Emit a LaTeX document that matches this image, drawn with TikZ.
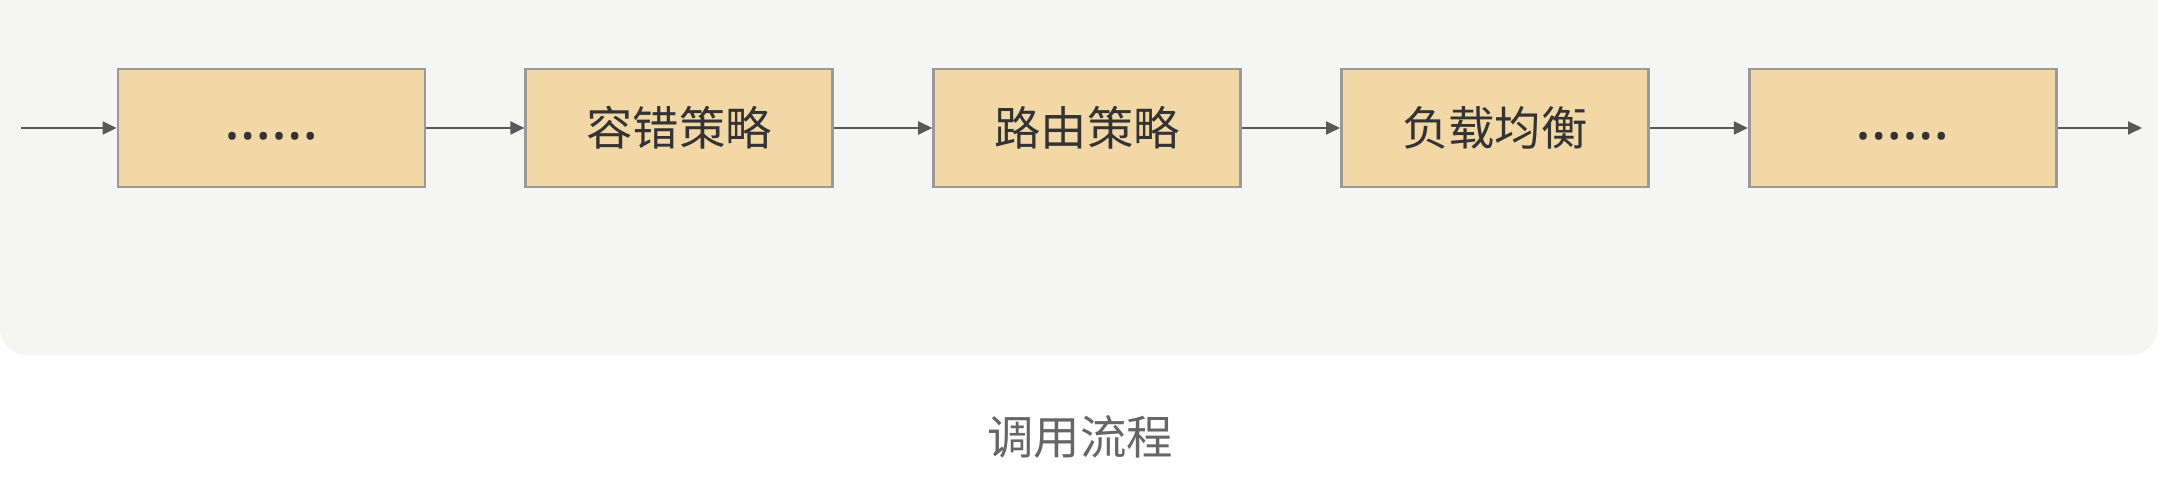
\documentclass[tikz,border=0pt]{standalone}
\usepackage{fontspec}
\setmainfont{Noto Sans CJK SC}
\newfontfamily\latinfont{Noto Sans}
\usepackage{tikz}
\usetikzlibrary{positioning,arrows.meta}
\definecolor{bgcol}{HTML}{F5F5F3}
\definecolor{boxfill}{HTML}{F3D8A7}
\definecolor{boxline}{HTML}{999999}
\definecolor{arrowcol}{HTML}{595959}
\definecolor{textcol}{HTML}{333333}
\definecolor{capcol}{HTML}{666666}
\tikzset{
  block/.style = {rectangle, minimum width=3.07cm, minimum height=1.18cm,
                  draw=boxline, line width=0.8pt, fill=boxfill, align=center,
                  text=textcol, font=\fontsize{13.2pt}{16pt}\selectfont},
  arrow/.style = {draw=arrowcol, line width=0.6pt,
                  -{Triangle[length=1.4mm,width=1.3mm]}}
}
\newcommand{\moredots}{{\latinfont\fontsize{17pt}{16pt}\selectfont\strut ……}}

\begin{document}
\begin{tikzpicture}[node distance=0.98cm]

\useasboundingbox (0,0) rectangle (21.58,4.77);
% background panel
\fill[bgcol] (0,4.77) [rounded corners=0.27cm] -- (0,1.22) -- (21.58,1.22) [sharp corners] -- (21.58,4.77) -- cycle;

\coordinate (in) at (0.21,3.49);
\node (more1)   [block] at (2.715,3.49)   {\moredots};
\node (fault)   [block, right=of more1]   {容错策略};
\node (route)   [block, right=of fault]   {路由策略};
\node (balance) [block, right=of route]   {负载均衡};
\node (more2)   [block, right=of balance] {\moredots};
\coordinate (out) at (21.42,3.49);

\draw[arrow] (in) -- (more1);
\draw[arrow] (more1) -- (fault);
\draw[arrow] (fault) -- (route);
\draw[arrow] (route) -- (balance);
\draw[arrow] (balance) -- (more2);
\draw[arrow] (more2) -- (out);

\node (caption) [text=capcol, font=\fontsize{13.2pt}{16pt}\selectfont] at (10.8,0.4) {调用流程};

\end{tikzpicture}
\end{document}
